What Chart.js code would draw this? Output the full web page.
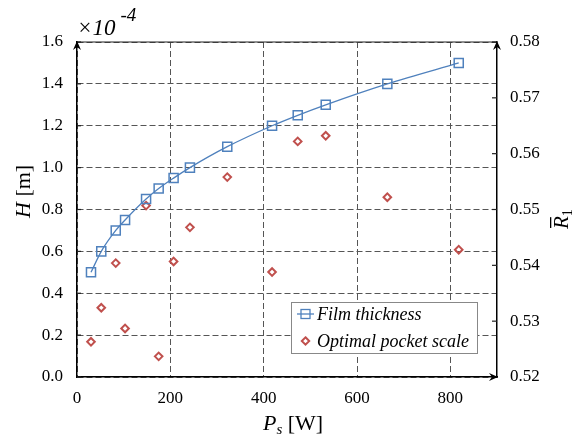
<!DOCTYPE html>
<html>
<head>
<meta charset="utf-8">
<script src="https://cdn.jsdelivr.net/npm/chart.js@4"></script>
<style>
  html, body { margin: 0; padding: 0; background: #fff; }
  #wrap { width: 574px; height: 436px; position: relative; }
</style>
</head>
<body>
<div id="wrap"><canvas id="chart"></canvas></div>
<script>
// power values P_s [W]
const powerW = [30, 52, 83, 103, 148, 175, 207, 242, 322, 418, 473, 533, 665, 818];
// film thickness H (x 1e-4 m)
const filmThickness = [0.5, 0.6, 0.7, 0.75, 0.85, 0.9, 0.95, 1.0, 1.1, 1.2, 1.25, 1.3, 1.4, 1.5];
// optimal pocket scale R1 (right axis)
const pocketScale = [0.5263, 0.5324, 0.5404, 0.5287, 0.5507, 0.5237, 0.5407, 0.5468, 0.5558, 0.5388, 0.5622, 0.5632, 0.5522, 0.5428];
const xTicks = [0, 200, 400, 600, 800];
const seriesNames = ['Film thickness', 'Optimal pocket scale'];

const blue = '#4f81bd';
const red = '#c0504d';
const serif = '"Liberation Serif", "Times New Roman", serif';
const tickFont = { family: serif, size: 17 };

function arrow(ctx, x, y, dir) {
  ctx.save();
  ctx.translate(x, y);
  ctx.rotate(dir);
  ctx.beginPath();
  ctx.moveTo(0, 0);
  ctx.lineTo(-9, -4);
  ctx.lineTo(-6, 0);
  ctx.lineTo(-9, 4);
  ctx.closePath();
  ctx.fillStyle = '#000';
  ctx.fill();
  ctx.restore();
}

const decor = {
  id: 'decor',
  afterDraw(chart) {
    const { ctx, chartArea: a, scales } = chart;
    ctx.save();
    // solid top frame
    ctx.strokeStyle = '#222';
    ctx.lineWidth = 1.2;
    ctx.beginPath();
    ctx.moveTo(a.left, a.top);
    ctx.lineTo(a.right, a.top);
    ctx.stroke();
    // inner ticks on right axis
    ctx.lineWidth = 1.2;
    scales.y2.ticks.forEach(t => {
      const py = scales.y2.getPixelForValue(t.value);
      ctx.beginPath();
      ctx.moveTo(a.right - 5, py);
      ctx.lineTo(a.right, py);
      ctx.stroke();
    });
    // inner ticks on left axis
    scales.y.ticks.forEach(t => {
      const py = scales.y.getPixelForValue(t.value);
      ctx.beginPath();
      ctx.moveTo(a.left, py);
      ctx.lineTo(a.left + 4, py);
      ctx.stroke();
    });
    // arrows
    arrow(ctx, a.left, a.top - 1, -Math.PI / 2);
    arrow(ctx, a.right, a.top - 1, -Math.PI / 2);
    arrow(ctx, a.right + 1, a.bottom, 0);

    ctx.fillStyle = '#000';
    ctx.textBaseline = 'alphabetic';
    // x10^-4
    ctx.font = 'italic 23px ' + serif;
    ctx.textAlign = 'left';
    ctx.fillText('\u00d710', a.left, a.top - 7);
    const w10 = ctx.measureText('\u00d710').width;
    ctx.font = 'italic 19px ' + serif;
    ctx.fillText('-4', a.left + w10 + 5, a.top - 21);

    // x title
    ctx.font = 'italic 22px ' + serif;
    let x = 263;
    ctx.fillText('P', x, 430);
    x += ctx.measureText('P').width;
    ctx.font = 'italic 15px ' + serif;
    ctx.fillText('s', x, 434);
    x += ctx.measureText('s').width;
    ctx.font = '22px ' + serif;
    ctx.fillText(' [W]', x, 430);

    // left title
    ctx.save();
    ctx.translate(30, 218);
    ctx.rotate(-Math.PI / 2);
    ctx.font = 'italic 22px ' + serif;
    ctx.fillText('H', 0, 0);
    const wH = ctx.measureText('H').width;
    ctx.font = '22px ' + serif;
    ctx.fillText(' [m]', wH, 0);
    ctx.restore();

    // right title R-bar 1
    ctx.save();
    ctx.translate(568, 229);
    ctx.rotate(-Math.PI / 2);
    ctx.font = 'italic 21px ' + serif;
    ctx.fillText('R', 0, 0);
    const wR = ctx.measureText('R').width;
    ctx.fillRect(1, -18, wR - 2, 1.3);
    ctx.font = '14px ' + serif;
    ctx.fillText('1', wR, 4);
    ctx.restore();

    // legend
    const lx = a.right - 206, ly = a.bottom - 75, lw = 186, lh = 51;
    ctx.fillStyle = '#fff';
    ctx.fillRect(lx, ly, lw, lh);
    ctx.strokeStyle = '#888';
    ctx.lineWidth = 1;
    ctx.strokeRect(lx + 0.5, ly + 0.5, lw, lh);
    const row1 = ly + 12, row2 = ly + 39;
    ctx.strokeStyle = blue;
    ctx.lineWidth = 1.3;
    ctx.beginPath();
    ctx.moveTo(lx + 6, row1);
    ctx.lineTo(lx + 23, row1);
    ctx.stroke();
    ctx.strokeRect(lx + 10, row1 - 4.5, 9, 9);
    ctx.strokeStyle = red;
    ctx.lineWidth = 2;
    ctx.beginPath();
    ctx.moveTo(lx + 14.5, row2 - 3.7);
    ctx.lineTo(lx + 18.2, row2);
    ctx.lineTo(lx + 14.5, row2 + 3.7);
    ctx.lineTo(lx + 10.8, row2);
    ctx.closePath();
    ctx.stroke();
    ctx.fillStyle = '#000';
    ctx.font = 'italic 18px ' + serif;
    ctx.textBaseline = 'middle';
    ctx.fillText(seriesNames[0], lx + 26, row1 + 1);
    ctx.fillText(seriesNames[1], lx + 26, row2 + 1);
    ctx.restore();
  }
};

new Chart(document.getElementById('chart'), {
  type: 'line',
  data: {
    datasets: [
      {
        label: seriesNames[0],
        data: powerW.map((p, i) => ({ x: p, y: filmThickness[i] })),
        yAxisID: 'y',
        borderColor: blue,
        borderWidth: 1.3,
        cubicInterpolationMode: 'monotone',
        pointStyle: 'rect',
        pointRadius: 6.4,
        pointBorderWidth: 1.5,
        pointBorderColor: blue,
        pointBackgroundColor: 'rgba(0,0,0,0)',
        fill: false
      },
      {
        label: seriesNames[1],
        data: powerW.map((p, i) => ({ x: p, y: pocketScale[i] })),
        yAxisID: 'y2',
        showLine: false,
        pointStyle: 'rectRot',
        pointRadius: 3.8,
        pointBorderWidth: 2,
        pointBorderColor: red,
        pointBackgroundColor: 'rgba(0,0,0,0)'
      }
    ]
  },
  options: {
    responsive: true,
    maintainAspectRatio: false,
    animation: false,
    layout: { padding: { top: 42, left: 0, right: 0, bottom: 0 } },
    plugins: { legend: { display: false }, tooltip: { enabled: false } },
    scales: {
      x: {
        type: 'linear',
        min: 0,
        max: 900,
        afterBuildTicks: s => { s.ticks = xTicks.map(v => ({ value: v })); },
        afterFit: s => { s.height = 59; },
        grid: { color: '#555', lineWidth: 1, drawTicks: false },
        border: { display: true, color: '#000', width: 1.5, dash: [6, 3] },
        ticks: { font: tickFont, color: '#000', padding: 11, maxRotation: 0 }
      },
      y: {
        position: 'left',
        min: 0,
        max: 1.6,
        afterFit: s => { s.width = 77; },
        grid: { color: '#555', lineWidth: 1, drawTicks: false },
        border: { display: true, color: '#000', width: 1.5, dash: [6, 3] },
        ticks: { stepSize: 0.2, font: tickFont, color: '#000', padding: 14, callback: v => v.toFixed(1) }
      },
      y2: {
        position: 'right',
        min: 0.52,
        max: 0.58,
        afterFit: s => { s.width = 77; },
        grid: { drawOnChartArea: false, drawTicks: false },
        border: { display: true, color: '#000', width: 1.5 },
        ticks: { stepSize: 0.01, font: tickFont, color: '#000', padding: 13, callback: v => v.toFixed(2) }
      }
    }
  },
  plugins: [decor]
});
</script>
</body>
</html>
